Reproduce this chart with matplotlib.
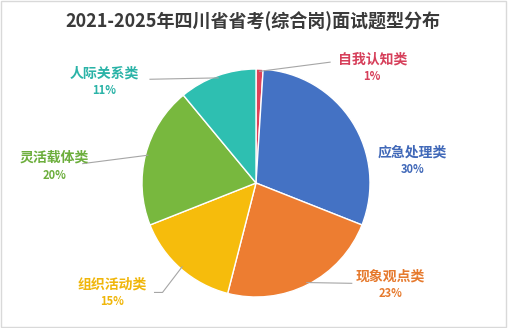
import matplotlib
matplotlib.use("Agg")
import matplotlib.pyplot as plt
import numpy as np
from matplotlib.patches import Rectangle

# data
categories = ["自我认知类", "应急处理类", "现象观点类", "组织活动类", "灵活载体类", "人际关系类"]
shares = [1, 30, 23, 15, 20, 11]
colors = ["#E04158", "#4472C4", "#ED7D31", "#F6BC0C", "#78B83E", "#2EBFB1"]
label_colors = ["#D63F5A", "#4068B8", "#E67A2E", "#F0B60A", "#6CAE3C", "#2AB3A7"]

# label placement (pie radius = 1), leader line start near text (None = no line)
label_pos = [(1.02, 1.08), (1.37, 0.27), (1.18, -0.82), (-1.26, -0.89), (-1.77, 0.22), (-1.33, 0.96)]
line_start = [(0.65, 1.06), None, (0.84, -0.88), (-0.89, -0.96), (-1.52, 0.17), (-0.93, 0.91)]

plt.rcParams['font.family'] = ['Noto Sans CJK SC', 'DejaVu Sans']

fig = plt.figure(figsize=(5.08, 3.28), dpi=100)
ax = fig.add_axes([0, 0, 1, 1])

wedges, _ = ax.pie(shares, colors=colors, startangle=90, counterclock=False,
                   radius=1, wedgeprops=dict(edgecolor="white", linewidth=1))

px = 114.0  # pixels per unit radius
cx, cy = 256, 183
ax.set_xlim(-cx / px, (508 - cx) / px)
ax.set_ylim(-(328 - cy) / px, cy / px)
ax.set_aspect('auto')
ax.axis('off')

for i, w in enumerate(wedges):
    mid = np.deg2rad((w.theta1 + w.theta2) / 2)
    ex, ey = 0.98 * np.cos(mid), 0.98 * np.sin(mid)
    tx, ty = label_pos[i]
    ax.text(tx, ty, categories[i], ha='center', va='center', fontsize=10,
            fontweight='bold', color=label_colors[i])
    ax.text(tx, ty - 0.15, f"{shares[i]}%", ha='center', va='center', fontsize=8,
            fontweight='bold', color=label_colors[i])
    if line_start[i] is not None:
        sx, sy = line_start[i]
        if i == 3:
            xs, ys = [sx, sx + 0.07, ex], [sy, sy, ey]
        else:
            xs, ys = [sx, ex], [sy, ey]
        ax.plot(xs, ys, color="#A6A6A6", lw=0.8)

fig.text(0.497, 0.935, "2021-2025年四川省省考(综合岗)面试题型分布", ha='center', va='center',
         fontsize=13, fontweight='bold', color="#3A3A3A")

fig.patches.append(Rectangle((0.002, 0.003), 0.995, 0.993, transform=fig.transFigure,
                             fill=False, edgecolor="#D9D9D9", lw=1))

fig.savefig("out.png", dpi=100, facecolor="white")
